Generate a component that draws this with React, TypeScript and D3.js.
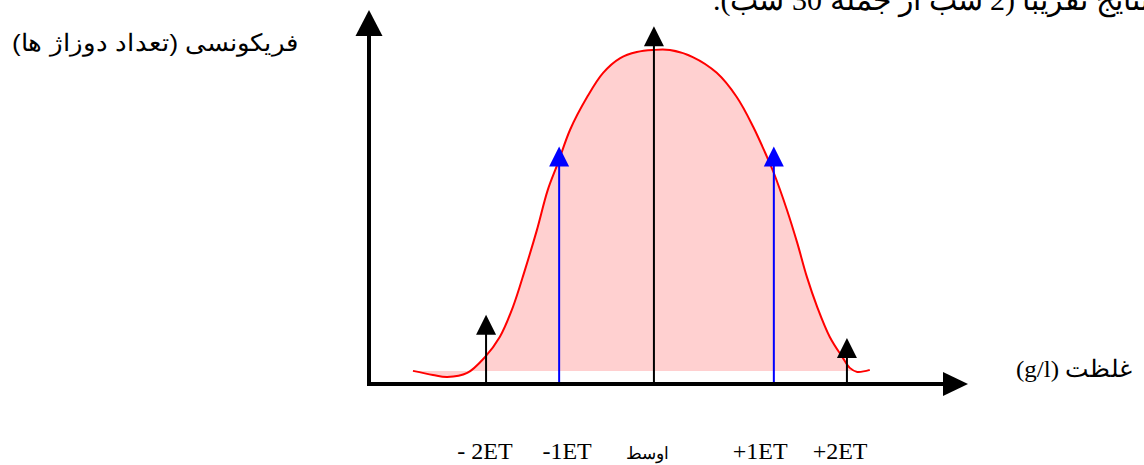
import React from "react";
import * as d3 from "d3";

// Curve data (concentration units, frequency units)
const curveX = [7.7, 11.2, 13.7, 17.2, 20.3, 22.9, 25.2, 27.3, 29.4, 31.3, 33.1, 35.2, 38.2, 41.0, 44.0, 46.9, 49.7, 52.7, 56.7, 60.9, 64.4, 67.3, 69.7, 70.9, 73.2, 75.0, 76.7, 78.5, 80.7, 82.9, 84.2, 85.5, 87.7];
const curveY = [3.9, 2.7, 2.1, 3.3, 8.0, 14.0, 22.9, 33.9, 45.8, 57.7, 65.8, 75.6, 85.4, 92.6, 97.0, 98.8, 99.4, 99.4, 97.3, 92.6, 85.4, 76.5, 67.6, 62.8, 51.8, 42.0, 31.8, 22.9, 14.0, 8.0, 4.8, 3.6, 4.2];
const fillBase = 3.9;

// Markers (mean and ±1/±2 ET)
const markerX = [20.5, 33.3, 49.9, 70.9, 83.7];
const markerTop = [20.6, 70.7, 106.5, 70.7, 13.7];
const markerKind = ["black", "blue", "black", "blue", "black"];
const tickLabels = ["- 2ET", "-1ET", "اوسط", "+1ET", "+2ET"];
const tickLabelX = [20.3, 34.7, 48.7, 68.5, 82.5];

const yLabel = "فریکونسی (تعداد دوزاژ ها)";
const xLabel = "غلظت (g/l)";
const topText = "نتایج تقریبا (2 شب از جمله 30 شب).";

const isArabic = (t: string) => /[\u0600-\u06FF]/.test(t);

export default function App() {
  const W = 1144, H = 465;
  const x = d3.scaleLinear().domain([0, 100]).range([369, 940]);
  const y = d3.scaleLinear().domain([0, 100]).range([384, 48]);
  const pts = curveX.map((v, i) => [v, curveY[i]] as [number, number]);
  const line = d3.line<[number, number]>().x(d => x(d[0])).y(d => y(d[1])).curve(d3.curveCatmullRom.alpha(0.5));
  const area = d3.area<[number, number]>().x(d => x(d[0])).y0(y(fillBase)).y1(d => y(d[1])).curve(d3.curveCatmullRom.alpha(0.5));
  const x0 = x(0), y0 = y(0);
  const head = (cx: number, tipY: number, w: number, h: number) =>
    `M${cx},${tipY} L${cx - w / 2},${tipY + h} L${cx + w / 2},${tipY + h} Z`;
  const colorOf = (k: string) => (k === "blue" ? "#0000ff" : "#000000");
  return (
    <svg width={W} height={H} style={{ position: "absolute", left: 0, top: 0, background: "#fff" }}>
      <path d={area(pts) || ""} fill="#ffd0d0" stroke="none" />
      <path d={line(pts) || ""} fill="none" stroke="#ff0000" strokeWidth={2} />
      {markerX.map((m, i) => (
        <g key={i}>
          <line x1={x(m)} x2={x(m)} y1={y0} y2={y(markerTop[i]) + 10} stroke={colorOf(markerKind[i])} strokeWidth={2} />
          <path d={head(x(m), y(markerTop[i]), 20, 20)} fill={colorOf(markerKind[i])} />
        </g>
      ))}
      {/* axes */}
      <line x1={x0} x2={x0} y1={y0 + 2} y2={30} stroke="#000" strokeWidth={4} />
      <path d={head(x0, 10, 27, 26)} fill="#000" />
      <line x1={x0 - 2} x2={948} y1={y0} y2={y0} stroke="#000" strokeWidth={4} />
      <path d={`M968,${y0} L943,${y0 - 12} L943,${y0 + 12} Z`} fill="#000" />
      {/* labels */}
      {tickLabels.map((t, i) => (
        <text key={i} x={x(tickLabelX[i])} y={459} textAnchor="middle" fontFamily="Liberation Serif, serif" fontSize={isArabic(t) ? 17 : 24} fill="#000">{t}</text>
      ))}
      <text x={298} y={51} direction="rtl" textAnchor="start" fontFamily="Liberation Sans, Arial, sans-serif" fontSize={24} textLength={286} lengthAdjust="spacingAndGlyphs" fill="#000">{yLabel}</text>
      <text x={1133} y={377} direction="rtl" textAnchor="start" fontFamily="Liberation Serif, serif" fontSize={24} textLength={117} lengthAdjust="spacingAndGlyphs" fill="#000">{xLabel}</text>
      <text x={713} y={10} direction="rtl" textAnchor="end" fontFamily="Liberation Serif, serif" fontSize={30} fill="#000">{topText}</text>
    </svg>
  );
}
